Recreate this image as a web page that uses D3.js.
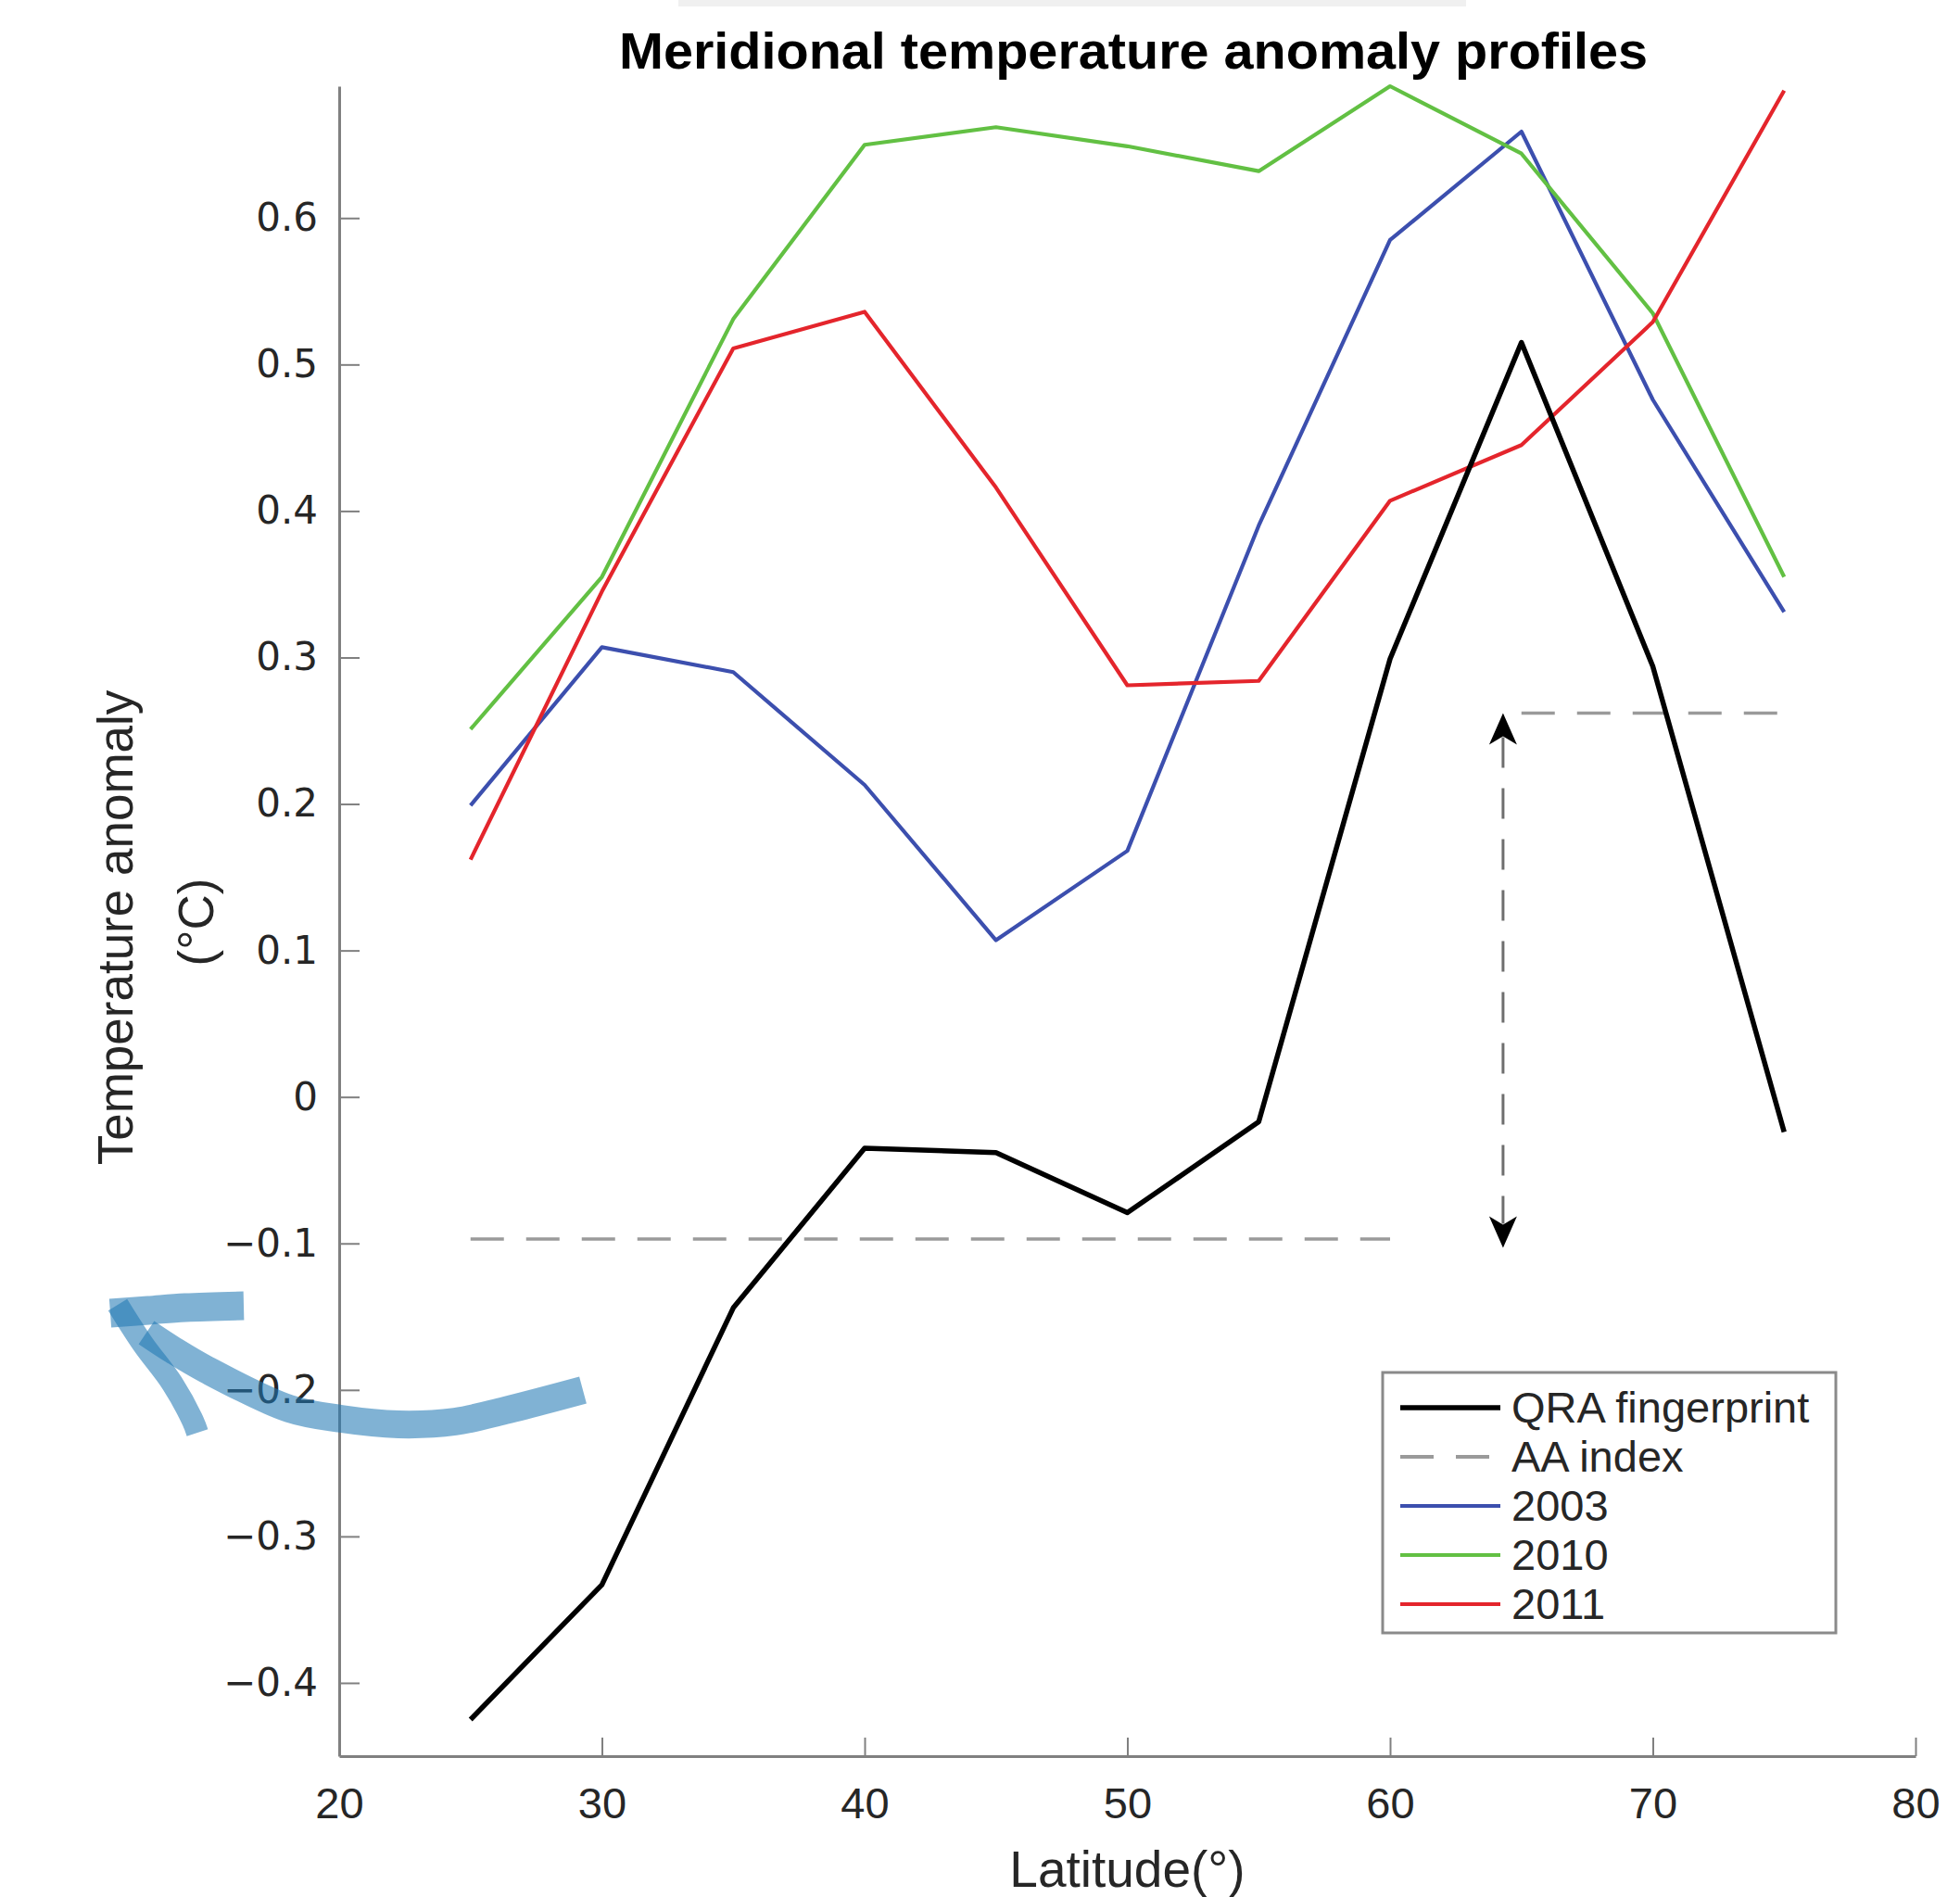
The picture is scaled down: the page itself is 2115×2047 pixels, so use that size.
<!DOCTYPE html>
<html>
<head>
<meta charset="utf-8">
<script src="https://cdn.jsdelivr.net/npm/d3@7"></script>
<style>
  body { margin: 0; background: #fff; }
  svg text { font-family: "Liberation Sans", Arial, sans-serif; }
</style>
</head>
<body>
<div id="chart"></div>
<script>
// ---- data ----
const latitudes = [25, 30, 35, 40, 45, 50, 55, 60, 65, 70, 75];
const qraFingerprint = [-0.425, -0.333, -0.144, -0.035, -0.038, -0.079, -0.017, 0.299, 0.515, 0.294, -0.024];
const anom2003 = [0.199, 0.307, 0.290, 0.213, 0.107, 0.168, 0.390, 0.585, 0.659, 0.476, 0.331];
const anom2010 = [0.251, 0.355, 0.531, 0.650, 0.662, 0.649, 0.632, 0.690, 0.644, 0.535, 0.355];
const anom2011 = [0.162, 0.345, 0.511, 0.536, 0.416, 0.281, 0.284, 0.407, 0.445, 0.529, 0.687];

// AA index: mean of fingerprint south / north
const aaLowLats = [25, 60];
const aaLowValue = -0.097;
const aaHighLats = [65, 75];
const aaHighValue = 0.262;
const arrowLat = 64.3;

const xTicks = [20, 30, 40, 50, 60, 70, 80];
const yTicks = [-0.4, -0.3, -0.2, -0.1, 0, 0.1, 0.2, 0.3, 0.4, 0.5, 0.6];
const yTickLabels = ["\u22120.4", "\u22120.3", "\u22120.2", "\u22120.1", "0", "0.1", "0.2", "0.3", "0.4", "0.5", "0.6"];

const legendNames = ["QRA fingerprint", "AA index", "2003", "2010", "2011"];
const legendColors = ["#000000", "#9a9a9a", "#3c4fae", "#62c043", "#e4252c"];

const W = 2115, H = 2047;

let svg = d3.select("#chart").append("svg")
    .attr("width", W)
    .attr("height", H);

// light strip at the very top of the picture
svg.append("rect")
    .attr("x", 732).attr("y", 0)
    .attr("width", 850).attr("height", 7)
    .attr("fill", "#f0f0f0");

// scales
let x = d3.scaleLinear().domain([20, 80]).range([366, 2067]);
let y = d3.scaleLinear().domain([-0.45, 0.69]).range([1895, 93]);

// axes
let xAxis = svg.append("g")
    .attr("class", "axis x-axis")
    .attr("transform", `translate(0, ${y(-0.45)})`)
    .call(d3.axisBottom(x).tickValues(xTicks).tickFormat(d3.format("d"))
        .tickSizeInner(-20).tickSizeOuter(0).tickPadding(34));

let yAxis = svg.append("g")
    .attr("class", "axis y-axis")
    .attr("transform", `translate(${x(20)}, 0)`)
    .call(d3.axisLeft(y).tickValues(yTicks).tickFormat((d, i) => yTickLabels[i])
        .tickSizeInner(-22).tickSizeOuter(0).tickPadding(23));

svg.selectAll(".axis path.domain").attr("stroke", "#808080").attr("stroke-width", 3);
svg.selectAll(".axis .tick line").attr("stroke", "#808080").attr("stroke-width", 2);
xAxis.selectAll(".tick text")
    .attr("fill", "#262626")
    .style("font-size", "47px");
yAxis.selectAll(".tick text")
    .attr("fill", "#262626")
    .style("font-family", "'DejaVu Sans', sans-serif")
    .style("font-size", "42px");

// title
svg.append("text")
    .attr("x", 1223).attr("y", 74)
    .attr("text-anchor", "middle")
    .attr("textLength", 1110)
    .attr("lengthAdjust", "spacingAndGlyphs")
    .style("font-size", "56px")
    .style("font-weight", "bold")
    .text("Meridional temperature  anomaly profiles");

// axis labels
svg.append("text")
    .attr("x", x(50)).attr("y", 2036)
    .attr("text-anchor", "middle")
    .style("font-size", "55px")
    .attr("fill", "#262626")
    .text("Latitude(\u00b0)");

svg.append("text")
    .attr("transform", "translate(143, 1001) rotate(-90)")
    .attr("text-anchor", "middle")
    .style("font-size", "53px")
    .attr("fill", "#262626")
    .text("Temperature anomaly");

svg.append("text")
    .attr("transform", "translate(230, 995) rotate(-90)")
    .attr("text-anchor", "middle")
    .style("font-size", "53px")
    .attr("fill", "#262626")
    .text("(\u00b0C)");

// AA index dashed levels
let dashed = svg.append("g").attr("class", "aa-index");
[[aaLowLats, aaLowValue], [aaHighLats, aaHighValue]].forEach(([lats, v]) => {
    dashed.append("line")
        .attr("x1", x(lats[0])).attr("x2", x(lats[1]))
        .attr("y1", y(v)).attr("y2", y(v))
        .attr("stroke", legendColors[1])
        .attr("stroke-width", 3.5)
        .attr("stroke-dasharray", "36,24");
});

// series lines
let line = d3.line()
    .x((d, i) => x(latitudes[i]))
    .y(d => y(d));

const seriesList = [
    {values: anom2003, color: legendColors[2], width: 4.2},
    {values: anom2010, color: legendColors[3], width: 4.2},
    {values: anom2011, color: legendColors[4], width: 4.2},
    {values: qraFingerprint, color: legendColors[0], width: 5.5}
];

svg.append("g").attr("class", "series")
    .selectAll("path")
    .data(seriesList)
    .enter().append("path")
    .attr("d", d => line(d.values))
    .attr("fill", "none")
    .attr("stroke", d => d.color)
    .attr("stroke-width", d => d.width)
    .attr("stroke-linejoin", "round");

// double arrow between the two AA levels
let ax = x(arrowLat), yTop = y(aaHighValue), yBot = y(aaLowValue - 0.006);
let arrow = svg.append("g").attr("class", "arrow");
arrow.append("line")
    .attr("x1", ax).attr("x2", ax)
    .attr("y1", yTop + 26).attr("y2", yBot - 26)
    .attr("stroke", "#6e6e6e")
    .attr("stroke-width", 3)
    .attr("stroke-dasharray", "33,22");
arrow.append("path")
    .attr("d", `M${ax},${yTop} L${ax + 15},${yTop + 34} L${ax},${yTop + 25} L${ax - 15},${yTop + 34} Z`)
    .attr("fill", "#000");
arrow.append("path")
    .attr("d", `M${ax},${yBot} L${ax + 15},${yBot - 34} L${ax},${yBot - 25} L${ax - 15},${yBot - 34} Z`)
    .attr("fill", "#000");

// legend
let legend = svg.append("g").attr("class", "legend");
legend.append("rect")
    .attr("x", 1492).attr("y", 1481)
    .attr("width", 489).attr("height", 281)
    .attr("fill", "#fff")
    .attr("stroke", "#8a8a8a")
    .attr("stroke-width", 3);

let items = legend.selectAll("g.item")
    .data(legendNames)
    .enter().append("g")
    .attr("class", "item")
    .attr("transform", (d, i) => `translate(0, ${1519 + i * 53})`);

items.append("line")
    .attr("x1", 1511).attr("x2", 1619)
    .attr("stroke", (d, i) => legendColors[i])
    .attr("stroke-width", (d, i) => i === 0 ? 5.5 : 4.2)
    .attr("stroke-dasharray", (d, i) => i === 1 ? "36,24" : null);

items.append("text")
    .attr("x", 1631)
    .attr("dy", "0.35em")
    .style("font-size", "47px")
    .attr("fill", "#262626")
    .text(d => d);

// hand-drawn blue arrow overlay
let pen = d3.line().curve(d3.curveCatmullRom);
let overlay = svg.append("g").attr("class", "markup")
    .attr("fill", "none")
    .attr("stroke", "#1f77b4")
    .attr("stroke-opacity", 0.57);

overlay.append("path")
    .attr("d", pen([[629, 1500], [545, 1522], [491, 1534], [430, 1537], [368, 1531], [312, 1520], [223, 1478], [187, 1457], [158, 1438]]))
    .attr("stroke-width", 30);
overlay.append("path")
    .attr("d", pen([[263, 1409], [200, 1411], [160, 1414], [119, 1417]]))
    .attr("stroke-width", 31);
overlay.append("path")
    .attr("d", pen([[127, 1408], [154, 1450], [186, 1493], [208, 1533], [213, 1546]]))
    .attr("stroke-width", 24);
</script>
</body>
</html>
